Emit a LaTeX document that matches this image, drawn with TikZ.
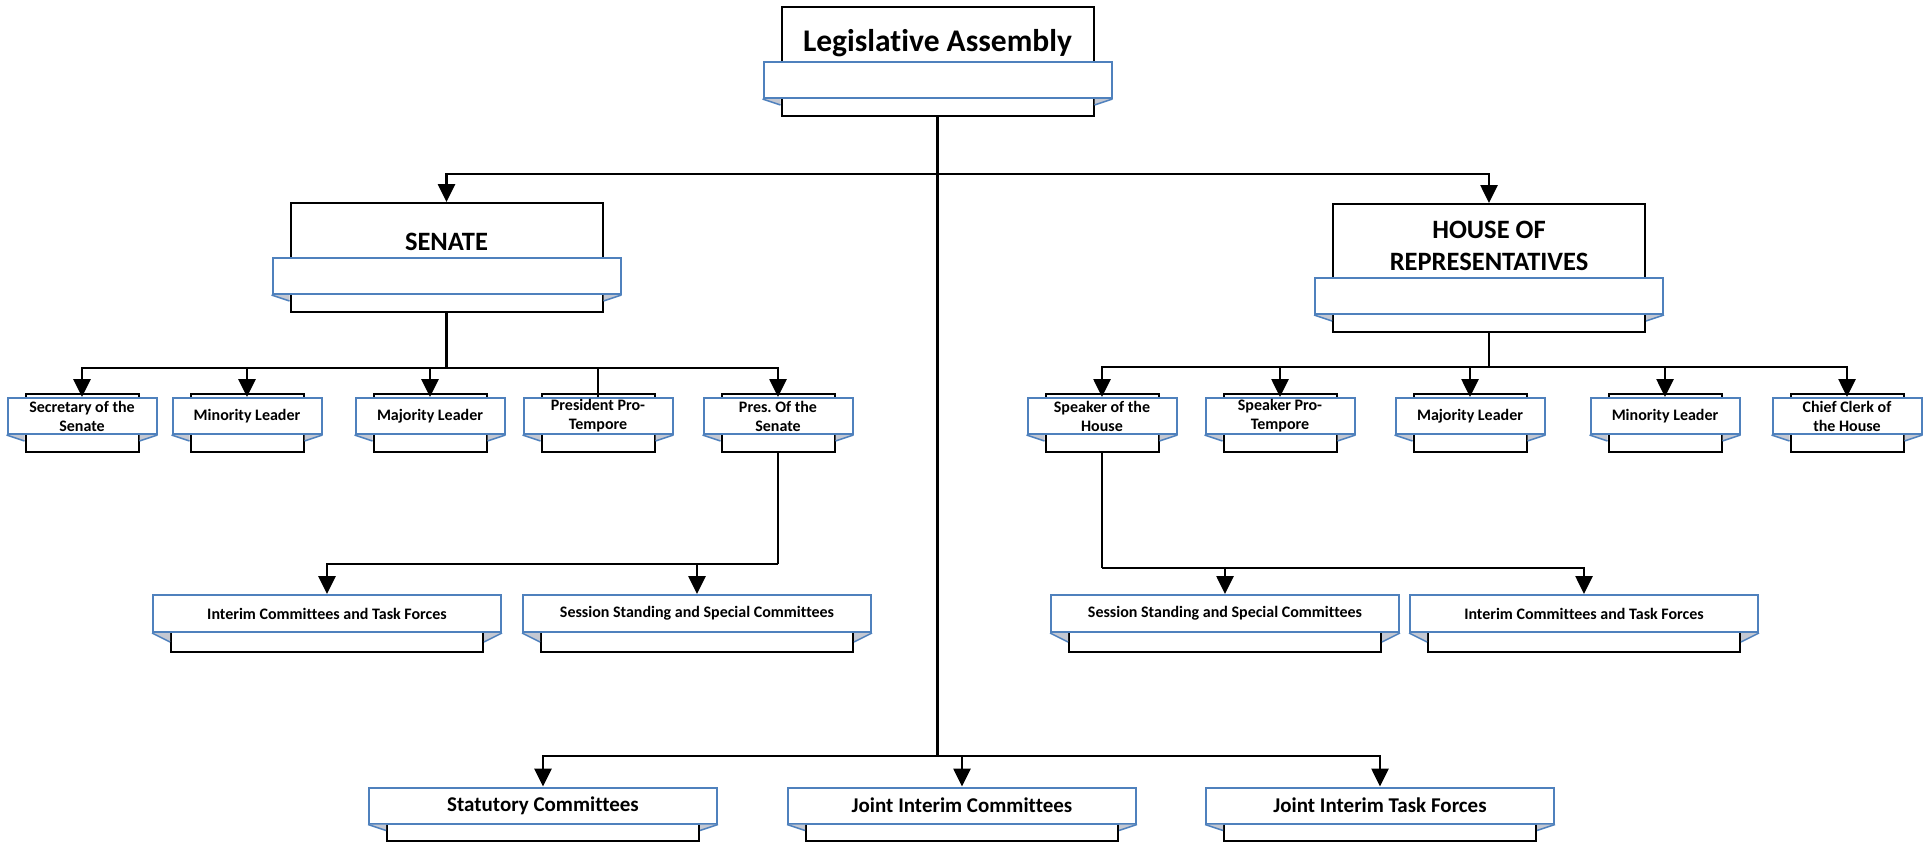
\documentclass[tikz,border=0pt]{standalone}
\usepackage{fontspec}
\setmainfont{Carlito}[Ligatures=NoCommon]
\frenchspacing
\usetikzlibrary{arrows.meta}
\definecolor{ribblue}{RGB}{79,129,189}
\definecolor{foldgray}{RGB}{196,200,210}
\newcommand{\fold}[2]{%
  \fill[foldgray] (#1.south west) -- ++(18,0) -- ++(0,#2) -- cycle;
  \fill[foldgray] (#1.south east) -- ++(-18,0) -- ++(0,#2) -- cycle;
  \draw[ribblue,line width=1.5pt] (#1.south west) -- ++(18,#2);
  \draw[ribblue,line width=1.5pt] (#1.south east) -- ++(-18,#2);}

\begin{document}
\begin{tikzpicture}[x=1pt,y=-1pt,>={Triangle[width=17pt,length=18pt]},
  frame/.style={draw=black,fill=white,line width=2pt,inner sep=0pt},
  ribbon/.style={draw=ribblue,fill=white,line width=2pt,inner sep=0pt,minimum height=36pt,align=center},
  big/.style={font=\fontsize{26.5}{32}\selectfont\bfseries,align=center,inner sep=0pt},
  small/.style={font=\fontsize{16}{19}\selectfont\bfseries},
  mid/.style={font=\fontsize{16}{19}\selectfont\bfseries},
  low/.style={font=\fontsize{21}{25}\selectfont\bfseries},
  link/.style={line width=2.7pt}]
\useasboundingbox (0,0) rectangle (1931,843);

% top
\node[frame,minimum width=312pt,minimum height=109pt] (la) at (937.5,61.5) {};
\node[ribbon,minimum width=348pt] (la-r) at (937.5,80) {};
\fold{la-r}{6}
\node[font=\fontsize{31.5}{37}\selectfont\bfseries,anchor=base,inner sep=0pt] (la-t) at (937.5,52) {Legislative Assembly};

% senate and house
\node[frame,minimum width=312pt,minimum height=109pt] (sen) at (446.5,257.5) {};
\node[ribbon,minimum width=348pt] (sen-r) at (446.5,276) {};
\fold{sen-r}{6}
\node[big,anchor=base] (sen-t) at (446.5,250) {SENATE};

\node[frame,minimum width=312pt,minimum height=128pt] (hor) at (1489,268) {};
\node[ribbon,minimum width=348pt] (hor-r) at (1489,296) {};
\fold{hor-r}{6}
\node[big] (hor-t) at (1489,246) {HOUSE OF\\REPRESENTATIVES};

% senate officers
\node[frame,minimum width=113pt,minimum height=58pt] (secs) at (82,423) {};
\node[ribbon,small,minimum width=149pt] (secs-r) at (82,416) {Secretary of the\\Senate};
\fold{secs-r}{6}
\node[frame,minimum width=113pt,minimum height=58pt] (mins) at (247,423) {};
\node[ribbon,small,minimum width=149pt] (mins-r) at (247,416) {Minority Leader};
\fold{mins-r}{6}
\node[frame,minimum width=113pt,minimum height=58pt] (majs) at (430,423) {};
\node[ribbon,small,minimum width=149pt] (majs-r) at (430,416) {Majority Leader};
\fold{majs-r}{6}
\node[frame,minimum width=113pt,minimum height=58pt] (ppt) at (598,423) {};
\node[ribbon,small,minimum width=149pt] (ppt-r) at (598,416) {President Pro-\\Tempore};
\fold{ppt-r}{6}
\node[frame,minimum width=113pt,minimum height=58pt] (pres) at (778,423) {};
\node[ribbon,small,minimum width=149pt] (pres-r) at (778,416) {Pres. Of the\\Senate};
\fold{pres-r}{6}

% house officers
\node[frame,minimum width=113pt,minimum height=58pt] (spk) at (1102,423) {};
\node[ribbon,small,minimum width=149pt] (spk-r) at (1102,416) {Speaker of the\\House};
\fold{spk-r}{6}
\node[frame,minimum width=113pt,minimum height=58pt] (spkpt) at (1280,423) {};
\node[ribbon,small,minimum width=149pt] (spkpt-r) at (1280,416) {Speaker Pro-\\Tempore};
\fold{spkpt-r}{6}
\node[frame,minimum width=113pt,minimum height=58pt] (majh) at (1470,423) {};
\node[ribbon,small,minimum width=149pt] (majh-r) at (1470,416) {Majority Leader};
\fold{majh-r}{6}
\node[frame,minimum width=113pt,minimum height=58pt] (minh) at (1665,423) {};
\node[ribbon,small,minimum width=149pt] (minh-r) at (1665,416) {Minority Leader};
\fold{minh-r}{6}
\node[frame,minimum width=113pt,minimum height=58pt] (clerk) at (1847,423) {};
\node[ribbon,small,minimum width=149pt] (clerk-r) at (1847,416) {Chief Clerk of\\the House};
\fold{clerk-r}{6}

% committees
\node[frame,minimum width=312pt,minimum height=50pt] (ints) at (327,627) {};
\node[ribbon,mid,minimum width=348pt,minimum height=37pt] (ints-r) at (327,613.5) {Interim Committees and Task Forces};
\fold{ints-r}{9}
\node[frame,minimum width=312pt,minimum height=50pt] (sess) at (697,627) {};
\node[ribbon,mid,minimum width=348pt,minimum height=37pt] (sess-r) at (697,613.5) {Session Standing and Special Committees};
\fold{sess-r}{9}
\node[frame,minimum width=312pt,minimum height=50pt] (sesh) at (1225,627) {};
\node[ribbon,mid,minimum width=348pt,minimum height=37pt] (sesh-r) at (1225,613.5) {Session Standing and Special Committees};
\fold{sesh-r}{9}
\node[frame,minimum width=312pt,minimum height=50pt] (inth) at (1584,627) {};
\node[ribbon,mid,minimum width=348pt,minimum height=37pt] (inth-r) at (1584,613.5) {Interim Committees and Task Forces};
\fold{inth-r}{9}

% joint bodies
\node[frame,minimum width=312pt,minimum height=46pt] (stat) at (543,818) {};
\node[ribbon,low,minimum width=348pt] (stat-r) at (543,805.5) {Statutory Committees};
\fold{stat-r}{6}
\node[frame,minimum width=312pt,minimum height=46pt] (jic) at (962,818) {};
\node[ribbon,low,minimum width=348pt] (jic-r) at (962,805.5) {Joint Interim Committees};
\fold{jic-r}{6}
\node[frame,minimum width=312pt,minimum height=46pt] (jitf) at (1380,818) {};
\node[ribbon,low,minimum width=348pt] (jitf-r) at (1380,805.5) {Joint Interim Task Forces};
\fold{jitf-r}{6}

% connectors
\coordinate (hub1) at (937.5,174);
\coordinate (hub2) at (937.5,756);
\coordinate (hubs) at (446.5,368);
\coordinate (hubh) at (1489,367);
\coordinate (hubp) at (778,564);
\coordinate (hubk) at (1102,568);
\draw[link] (la.south) -- (hub2);
\draw[link,->] (hub1) -| (sen.north);
\draw[link,->] (hub1) -| (hor.north);
\draw[link,->] (hub2) -| (stat-r.north);
\draw[link,->] (hub2) -| (jic-r.north);
\draw[link,->] (hub2) -| (jitf-r.north);
\draw[link] (sen.south) -- (hubs);
\draw[link,->] (hubs) -| (secs-r.north);
\draw[link,->] (hubs) -| (mins-r.north);
\draw[link,->] (hubs) -| (majs-r.north);
\draw[link] (hubs) -| (ppt-r.north);
\draw[link,->] (hubs) -| (pres-r.north);
\draw[link] (hor.south) -- (hubh);
\draw[link,->] (hubh) -| (spk-r.north);
\draw[link,->] (hubh) -| (spkpt-r.north);
\draw[link,->] (hubh) -| (majh-r.north);
\draw[link,->] (hubh) -| (minh-r.north);
\draw[link,->] (hubh) -| (clerk-r.north);
\draw[link] (pres.south) -- (hubp);
\draw[link,->] (hubp) -| (ints-r.north);
\draw[link,->] (hubp) -| (sess-r.north);
\draw[link] (spk.south) -- (hubk);
\draw[link,->] (hubk) -| (sesh-r.north);
\draw[link,->] (hubk) -| (inth-r.north);
\end{tikzpicture}
\end{document}
